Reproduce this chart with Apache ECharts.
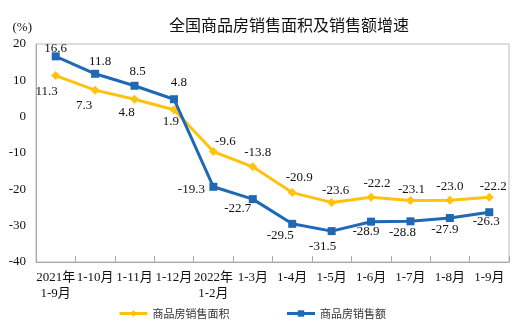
<!DOCTYPE html>
<html>
<head>
<meta charset="utf-8">
<script src="https://cdn.jsdelivr.net/npm/echarts@6/dist/echarts.min.js"></script>
<style>
  html, body { margin: 0; padding: 0; background: #fff; }
  #chart { width: 525px; height: 332px; }
</style>
</head>
<body>
<div id="chart"></div>
<script>
// Categories (reporting periods, cumulative year-to-date)
const categories = ['2021年\n1-9月', '1-10月', '1-11月', '1-12月', '2022年\n1-2月',
  '1-3月', '1-4月', '1-5月', '1-6月', '1-7月', '1-8月', '1-9月'];

// Year-on-year growth, %
const areaGrowth = [11.3, 7.3, 4.8, 1.9, -9.6, -13.8, -20.9, -23.6, -22.2, -23.1, -23.0, -22.2];
const salesGrowth = [16.6, 11.8, 8.5, 4.8, -19.3, -22.7, -29.5, -31.5, -28.9, -28.8, -27.9, -26.3];

// Value-axis ticks
const yTicks = [-40, -30, -20, -10, 0, 10, 20];

// Label placement relative to each point (pixels)
const areaLabelOffsets = [[-9, 16], [-11, 15], [-8, 13], [-3, 12], [12, -10], [5, -14],
  [7, -15], [4, -12], [6, -14], [1, -11], [0, -14], [4, -11]];
const salesLabelOffsets = [[0, -8], [5, -12], [3, -14], [5, -17], [-22, 3], [-15, 9],
  [-12, 12], [-9, 15], [-5, 10], [-8, 11], [-5, 12], [-3, 9]];

const YELLOW = '#FFC20E';
const BLUE = '#1F68B5';
const SERIF = '"Liberation Serif", "Times New Roman", "Noto Sans CJK SC", serif';

function withLabels(values, offsets) {
  return values.map((v, i) => ({
    value: v,
    label: { offset: offsets[i] }
  }));
}

const chart = echarts.init(document.getElementById('chart'));
chart.setOption({
  animation: false,
  title: {
    text: '全国商品房销售面积及销售额增速',
    left: 284,
    textAlign: 'center',
    top: 12,
    textStyle: { fontSize: 16, fontWeight: 'normal', color: '#111', fontFamily: '"Noto Sans CJK SC", sans-serif' }
  },
  grid: { left: 36, right: 16, top: 44, bottom: 70, show: true, borderColor: '#bbb', borderWidth: 1 },
  legend: {
    bottom: 8,
    left: 113,
    itemGap: 56,
    itemWidth: 28,
    itemHeight: 8,
    lineStyle: { width: 3 },
    textStyle: { fontSize: 11, color: '#333', fontFamily: '"Noto Sans CJK SC", sans-serif' },
    data: ['商品房销售面积', '商品房销售额']
  },
  xAxis: {
    type: 'category',
    data: categories,
    boundaryGap: true,
    axisLine: { onZero: false, lineStyle: { color: '#aaa' } },
    axisTick: { show: true, inside: true, length: 6, lineStyle: { color: '#aaa' } },
    axisLabel: { interval: 0, color: '#111', fontSize: 13, fontFamily: SERIF, lineHeight: 16, margin: 8 }
  },
  yAxis: {
    type: 'value',
    min: yTicks[0],
    max: yTicks[yTicks.length - 1],
    interval: 10,
    name: '(%)',
    nameLocation: 'end',
    nameGap: 10,
    nameTextStyle: { color: '#111', fontSize: 13, fontFamily: SERIF, align: 'right', padding: [0, 4, 0, 0] },
    axisLine: { show: true, lineStyle: { color: '#aaa' } },
    axisTick: { show: false },
    splitLine: { show: false },
    axisLabel: { color: '#111', fontSize: 13, fontFamily: SERIF, margin: 10 }
  },
  series: [
    {
      name: '商品房销售面积',
      type: 'line',
      data: withLabels(areaGrowth, areaLabelOffsets),
      symbol: 'diamond',
      symbolSize: 9,
      color: YELLOW,
      lineStyle: { width: 3, color: YELLOW },
      itemStyle: { color: YELLOW },
      label: {
        show: true,
        position: 'inside',
        color: '#111',
        fontSize: 13,
        fontFamily: SERIF,
        formatter: p => p.value.toFixed(1)
      },
      z: 2
    },
    {
      name: '商品房销售额',
      type: 'line',
      data: withLabels(salesGrowth, salesLabelOffsets),
      symbol: 'rect',
      symbolSize: 8,
      color: BLUE,
      lineStyle: { width: 3, color: BLUE },
      itemStyle: { color: BLUE },
      label: {
        show: true,
        position: 'inside',
        color: '#111',
        fontSize: 13,
        fontFamily: SERIF,
        formatter: p => p.value.toFixed(1)
      },
      z: 3
    }
  ]
});
</script>
</body>
</html>
